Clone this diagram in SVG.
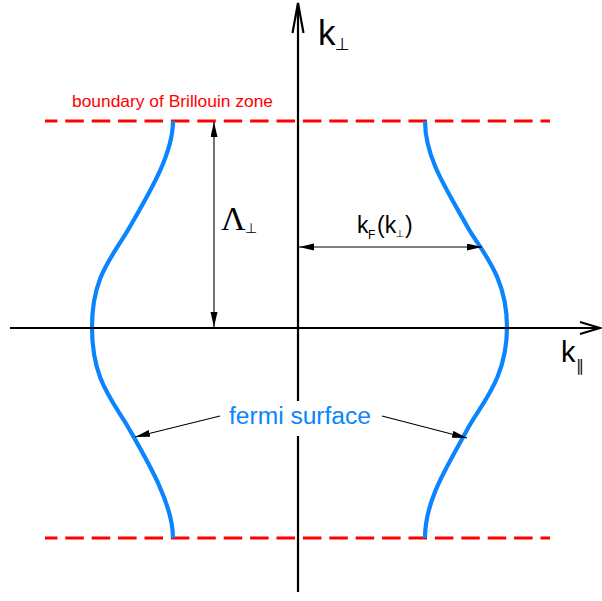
<svg xmlns="http://www.w3.org/2000/svg" width="602" height="601" viewBox="0 0 602 601">
<defs>
<marker id="ah" markerWidth="16" markerHeight="8" refX="15" refY="3.5" orient="auto-start-reverse" markerUnits="userSpaceOnUse"><path d="M0,0 L15,3.5 L0,7 z" fill="#000"/></marker>
</defs>
<style>
.axis{stroke:#000;stroke-width:2.2;fill:none}
.dim{stroke:#000;stroke-width:1.1;fill:none}
.bz{stroke:#ff0000;stroke-width:3;stroke-dasharray:18.5 7.9;stroke-dashoffset:6.1;fill:none}
.fs{stroke:#0a84ff;stroke-width:4.2;fill:none}
text{font-family:"Liberation Sans",Arial,"DejaVu Sans",sans-serif}
.serif{font-family:"Liberation Serif","Times New Roman","DejaVu Serif",serif}
</style>
<rect width="602" height="601" fill="#fff"/>
<g id="brillouin-boundary">
<line class="bz" x1="45" y1="121" x2="550" y2="121"/>
<line class="bz" x1="45" y1="538" x2="550" y2="538"/>
<text x="72" y="107" font-size="16.5" fill="#ff0000" textLength="201" lengthAdjust="spacingAndGlyphs">boundary of Brillouin zone</text>
</g>
<g id="fermi-left">
<path class="fs" d="M173,121 C173,155 148,195 128,230 C110,260 92,278 92,327 C92,378 110,397 128,427 C148,462 173,504 173,538"/>
</g>
<g id="fermi-right">
<path class="fs" d="M425,121 C425,158 447,190 467,226 C480,250 507,275 507,327 C507,380 480,405 467,430 C447,467 425,500 425,538"/>
</g>
<g id="connectors">
<line class="axis" x1="298" y1="4" x2="298" y2="592"/>
<polyline class="axis" points="292.5,33 298,3 303.5,33"/>
<line class="axis" x1="10" y1="328" x2="599" y2="328"/>
<polyline class="axis" points="580,322 600,328 580,334"/>
<line class="dim" x1="214" y1="122" x2="214" y2="327" marker-start="url(#ah)" marker-end="url(#ah)"/>
<line class="dim" x1="299" y1="247" x2="482" y2="247" marker-start="url(#ah)" marker-end="url(#ah)"/>
<line class="dim" x1="220" y1="416" x2="135" y2="437" marker-end="url(#ah)"/>
<line class="dim" x1="382" y1="416" x2="467" y2="438" marker-end="url(#ah)"/>
</g>
<g id="label-kperp">
<text x="318" y="45" font-size="35">k</text>
<text x="335" y="50" font-size="17">⊥</text>
</g>
<g id="label-kpar">
<text x="561" y="362" font-size="29">k</text>
<text x="576" y="371" font-size="16">∥</text>
</g>
<g id="label-lambda">
<text class="serif" x="221" y="230" font-size="34">Λ</text>
<text x="245" y="233" font-size="14">⊥</text>
</g>
<g id="label-kF">
<text font-size="23"><tspan x="357" y="233">k</tspan><tspan x="368" y="239" font-size="12">F</tspan><tspan x="377" y="233">(k</tspan><tspan x="395.5" y="237" font-size="10">⊥</tspan><tspan x="405" y="233">)</tspan></text>
</g>
<g id="label-fermi">
<rect x="224" y="401" width="154" height="35" fill="#fff"/>
<text x="229" y="424" font-size="23" fill="#0a84ff" textLength="142" lengthAdjust="spacingAndGlyphs">fermi surface</text>
</g>
</svg>
